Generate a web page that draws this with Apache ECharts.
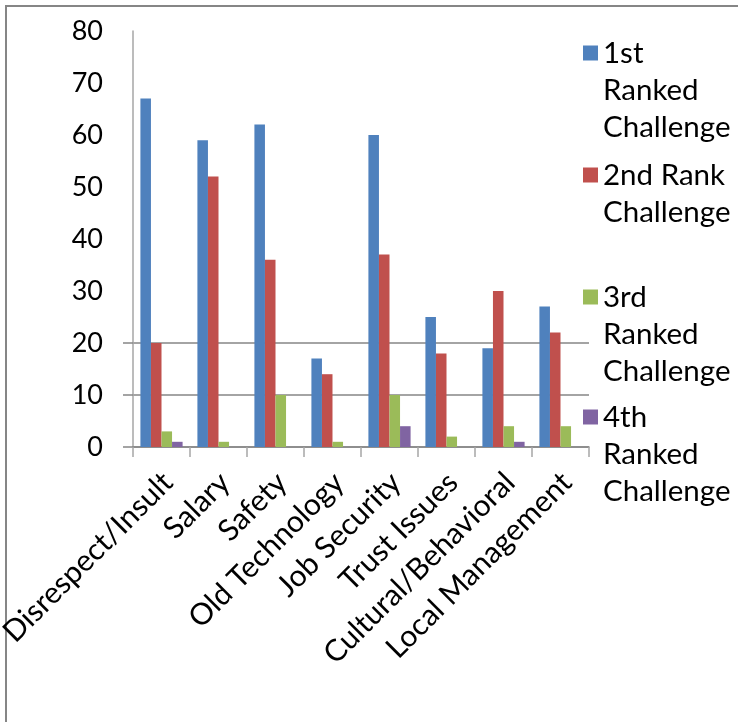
<!DOCTYPE html>
<html>
<head>
<meta charset="utf-8">
<script src="https://cdn.jsdelivr.net/npm/echarts@6/dist/echarts.min.js"></script>
<style>
  html, body { margin: 0; padding: 0; background: #ffffff; }
  #chart { width: 738px; height: 722px; }
</style>
</head>
<body>
<div id="chart"></div>
<script>
// Workplace challenges, counted by the rank respondents gave them
const categories = [
  'Disrespect/Insult', 'Salary', 'Safety', 'Old Technology',
  'Job Security', 'Trust Issues', 'Cultural/Behavioral', 'Local Management'
];
const seriesNames = [
  '1st\nRanked\nChallenge',
  '2nd Rank\nChallenge',
  '3rd\nRanked\nChallenge',
  '4th\nRanked\nChallenge'
];
const rank1 = [67, 59, 62, 17, 60, 25, 19, 27];
const rank2 = [20, 52, 36, 14, 37, 18, 30, 22];
const rank3 = [3, 1, 10, 1, 10, 2, 4, 4];
const rank4 = [1, 0, 0, 0, 4, 0, 1, 0];
const yTicks = [0, 10, 20, 30, 40, 50, 60, 70, 80];

const colors = ['#4F81BD', '#C0504D', '#9BBB59', '#8064A2'];
const values = [rank1, rank2, rank3, rank4];

const FONT = 'Lato';
const FS_NUM = 27;
const FS_LEGEND = 29.5;
const FS_CAT = 30;
const LH = 37;
const axisGray = '#868686';

// Legend entries: the marker sits beside the first line of each wrapped name.
// Blank lines are prepended so the first line is the middle of the block,
// which is where the marker is centred.
const legendFirstLine = [53, 175, 297, 417];
const legends = seriesNames.map(function (name, i) {
  const lines = name.split('\n').length;
  const pad = lines - 1;
  const boxH = (lines + pad) * LH;
  return {
    orient: 'vertical',
    left: 583,
    top: legendFirstLine[i] - boxH / 2,
    padding: 0,
    icon: 'rect',
    itemWidth: 15,
    itemHeight: 15,
    selectedMode: false,
    data: [name],
    formatter: function (n) {
      return new Array(pad + 1).join('\n') + n;
    },
    textStyle: {
      fontFamily: FONT,
      fontSize: FS_LEGEND,
      lineHeight: LH,
      color: '#000'
    }
  };
});

const chart = echarts.init(document.getElementById('chart'), null, { renderer: 'canvas' });

chart.setOption({
  animation: false,
  backgroundColor: '#ffffff',
  color: colors,
  textStyle: { fontFamily: FONT },
  legend: legends,
  grid: {
    left: 133, right: 149, top: 31, bottom: 275,
    containLabel: false,
    outerBoundsMode: 'none'
  },
  xAxis: {
    type: 'category',
    data: categories,
    boundaryGap: true,
    axisLine: { show: true, lineStyle: { color: axisGray, width: 1.5 } },
    axisTick: { show: true, length: 10, lineStyle: { color: '#A6A6A6', width: 1.5 } },
    axisLabel: {
      interval: 0,
      rotate: 45,
      margin: 37,
      // nudge the slanted names a little along their own direction
      padding: [0, -9, 0, 0],
      fontFamily: FONT,
      fontSize: FS_CAT,
      color: '#000'
    },
    splitLine: { show: false }
  },
  yAxis: {
    type: 'value',
    min: yTicks[0],
    max: yTicks[yTicks.length - 1],
    interval: 10,
    axisLine: { show: true, lineStyle: { color: '#A6A6A6', width: 1.5 } },
    axisTick: {
      show: true,
      length: 10,
      customValues: [0, 10, 20],
      lineStyle: { color: axisGray, width: 1.5 }
    },
    axisLabel: {
      margin: 30,
      fontFamily: FONT,
      fontSize: FS_NUM,
      color: '#000'
    },
    splitLine: {
      show: true,
      lineStyle: {
        width: 1.5,
        // only the lower grid lines are drawn
        color: [axisGray, axisGray, axisGray,
                'rgba(0,0,0,0)', 'rgba(0,0,0,0)', 'rgba(0,0,0,0)',
                'rgba(0,0,0,0)', 'rgba(0,0,0,0)', 'rgba(0,0,0,0)']
      }
    }
  },
  series: values.map(function (vals, i) {
    return {
      name: seriesNames[i],
      type: 'bar',
      data: vals,
      barGap: '0%',
      barCategoryGap: '26%',
      itemStyle: { color: colors[i] }
    };
  }),
  graphic: [
    {
      type: 'polyline',
      silent: true,
      shape: { points: [[6, 740], [6, 6], [740, 6]] },
      style: { stroke: axisGray, lineWidth: 2, fill: null }
    }
  ]
});
</script>
</body>
</html>
